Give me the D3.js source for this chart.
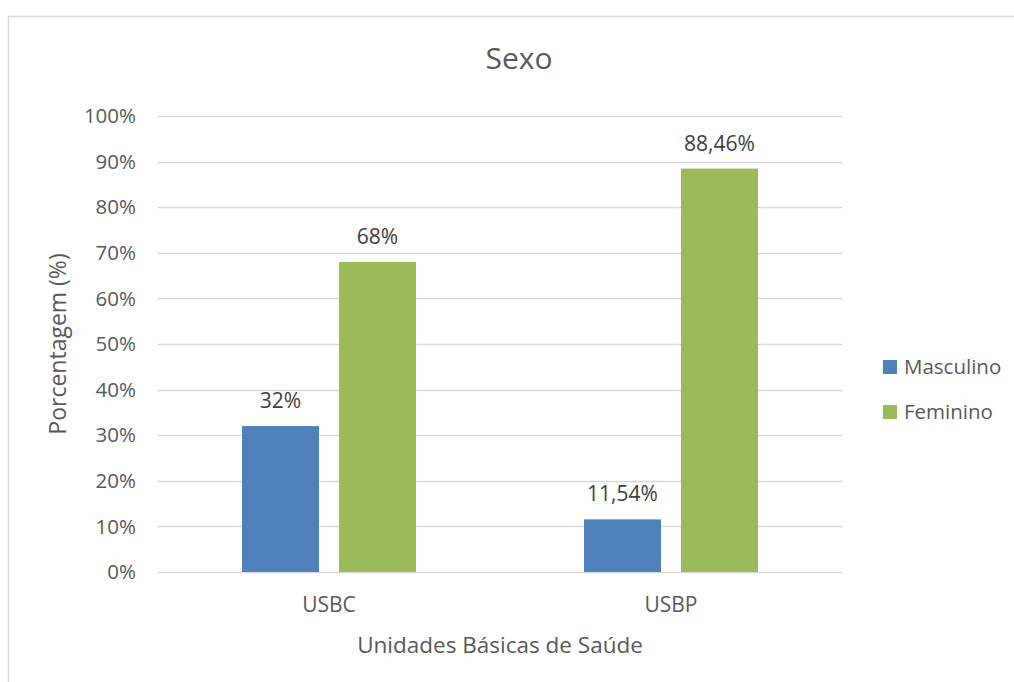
<!DOCTYPE html>
<html>
<head>
<meta charset="utf-8">
<script src="https://cdn.jsdelivr.net/npm/d3@7"></script>
<style>
  body { margin: 0; background: #fff; }
  svg { display: block; font-family: "Open Sans", sans-serif; }
</style>
</head>
<body>
<div id="chart"></div>
<script>
// data
const categories = ["USBC", "USBP"];
const seriesNames = ["Masculino", "Feminino"];
const masculino = [32, 11.54];
const feminino = [68, 88.46];
const valueLabels = [["32%", "11,54%"], ["68%", "88,46%"]];
const yTicks = [0, 10, 20, 30, 40, 50, 60, 70, 80, 90, 100];
const colors = ["#4f81bd", "#9bbb59"];

const W = 1014, H = 682;
const margin = {top: 116, left: 158, right: 172, bottom: 110};
const textColor = "#595959";

const svg = d3.select("#chart").append("svg")
    .attr("width", W)
    .attr("height", H);

// chart border (runs off the right and bottom edge)
svg.append("rect")
    .attr("x", 8.5).attr("y", 16.5)
    .attr("width", W + 10).attr("height", H + 10)
    .attr("fill", "#fff")
    .attr("stroke", "#d9d9d9")
    .attr("stroke-width", 1.5);

const x = d3.scaleBand()
    .domain(categories)
    .range([margin.left, W - margin.right]);

const y = d3.scaleLinear()
    .domain([0, 100])
    .range([H - margin.bottom, margin.top]);

// bars in a group: 77px wide, 20px apart, centred in the band
const groupW = 174;
const x1 = d3.scaleBand()
    .domain(seriesNames)
    .range([(x.bandwidth() - groupW) / 2, (x.bandwidth() + groupW) / 2])
    .paddingInner(0.206);

// gridlines
svg.append("g")
    .selectAll("line")
    .data(yTicks)
    .enter().append("line")
    .attr("x1", margin.left)
    .attr("x2", W - margin.right)
    .attr("y1", d => Math.round(y(d)) + 0.5)
    .attr("y2", d => Math.round(y(d)) + 0.5)
    .attr("stroke", "#d9d9d9")
    .attr("stroke-width", 1.3);

// y tick labels
svg.append("g")
    .selectAll("text")
    .data(yTicks)
    .enter().append("text")
    .attr("x", 136)
    .attr("y", d => y(d))
    .attr("dy", "0.35em")
    .attr("text-anchor", "end")
    .attr("fill", textColor)
    .style("font-size", "20.5px")
    .text(d => d + "%");

// bars
const series = [masculino, feminino];
series.forEach((vals, s) => {
    const g = svg.append("g");
    g.selectAll("rect")
        .data(vals)
        .enter().append("rect")
        .attr("x", (d, i) => x(categories[i]) + x1(seriesNames[s]))
        .attr("y", d => y(d))
        .attr("width", x1.bandwidth())
        .attr("height", d => y(0) - y(d))
        .attr("fill", colors[s]);

    g.selectAll("text")
        .data(vals)
        .enter().append("text")
        .attr("x", (d, i) => x(categories[i]) + x1(seriesNames[s]) + x1.bandwidth() / 2)
        .attr("y", d => y(d) - 18)
        .attr("text-anchor", "middle")
        .attr("fill", "#404040")
        .style("font-size", "21px")
        .text((d, i) => valueLabels[s][i]);
});

// category labels
svg.append("g")
    .selectAll("text")
    .data(categories)
    .enter().append("text")
    .attr("x", d => x(d) + x.bandwidth() / 2)
    .attr("y", y(0) + 40)
    .attr("text-anchor", "middle")
    .attr("fill", textColor)
    .style("font-size", "21px")
    .text(d => d);

// axis titles
svg.append("text")
    .attr("x", (margin.left + W - margin.right) / 2)
    .attr("y", 653)
    .attr("text-anchor", "middle")
    .attr("fill", textColor)
    .style("font-size", "22.5px")
    .text("Unidades Básicas de Saúde");

svg.append("text")
    .attr("transform", `translate(66, ${(y(0) + y(100)) / 2}) rotate(-90)`)
    .attr("text-anchor", "middle")
    .attr("fill", textColor)
    .style("font-size", "23px")
    .text("Porcentagem (%)");

// title
svg.append("text")
    .attr("x", 519)
    .attr("y", 69)
    .attr("text-anchor", "middle")
    .attr("fill", textColor)
    .style("font-size", "30px")
    .text("Sexo");

// legend
const legend = svg.append("g")
    .selectAll("g")
    .data(seriesNames)
    .enter().append("g")
    .attr("transform", (d, i) => `translate(883, ${360 + i * 45})`);

legend.append("rect")
    .attr("width", 14).attr("height", 14)
    .attr("fill", (d, i) => colors[i]);

legend.append("text")
    .attr("x", 21)
    .attr("y", 14)
    .attr("fill", textColor)
    .style("font-size", "20.5px")
    .text(d => d);
</script>
</body>
</html>
